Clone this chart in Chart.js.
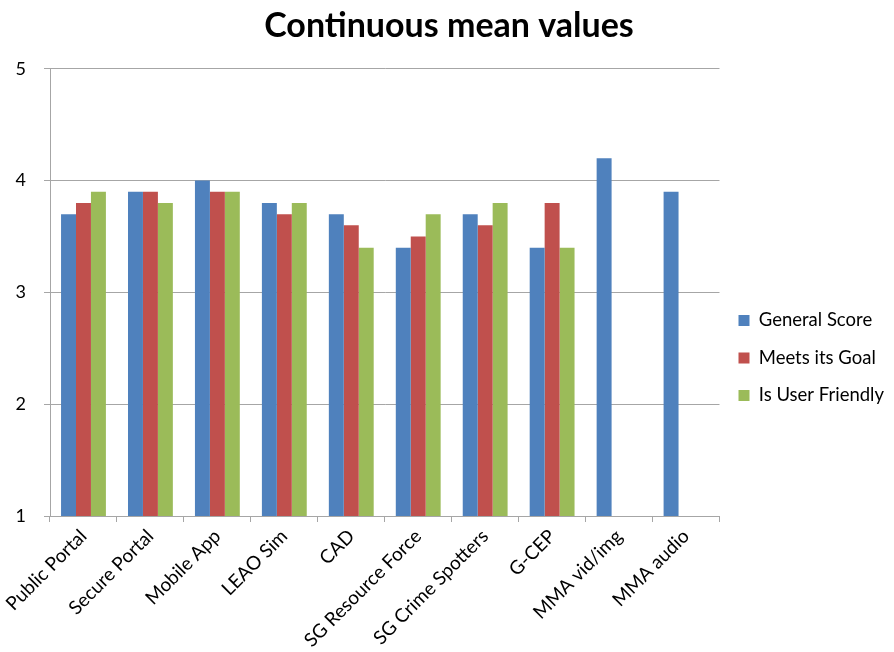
<!DOCTYPE html>
<html>
<head>
<meta charset="utf-8">
<script src="https://cdn.jsdelivr.net/npm/chart.js@4"></script>
<style>
  html, body { margin: 0; padding: 0; background: #fff; }
  #wrap { width: 894px; height: 652px; }
</style>
</head>
<body>
<div id="wrap"><canvas id="chart" width="894" height="652"></canvas></div>
<script>
const categories = [
  "Public Portal", "Secure Portal", "Mobile App", "LEAO Sim", "CAD",
  "SG Resource Force", "SG Crime Spotters", "G-CEP", "MMA vid/img", "MMA audio",
];
const generalScore = [3.7, 3.9, 4.0, 3.8, 3.7, 3.4, 3.7, 3.4, 4.2, 3.9];
const meetsGoal = [3.8, 3.9, 3.9, 3.7, 3.6, 3.5, 3.6, 3.8, null, null];
const userFriendly = [3.9, 3.8, 3.9, 3.8, 3.4, 3.7, 3.8, 3.4, null, null];
const yTicks = [1, 2, 3, 4, 5];

const font = "Lato, 'Open Sans', sans-serif";

new Chart(document.getElementById("chart"), {
  type: "bar",
  data: {
    labels: categories,
    datasets: [
      { label: "General Score", data: generalScore, backgroundColor: "#4f81bd" },
      { label: "Meets its Goal", data: meetsGoal, backgroundColor: "#c0504d" },
      { label: "Is User Friendly", data: userFriendly, backgroundColor: "#9bbb59" },
    ],
  },
  options: {
    responsive: false,
    animation: false,
    layout: { padding: { left: 4, right: 0, top: 0, bottom: 0 } },
    datasets: {
      bar: { categoryPercentage: 0.67, barPercentage: 1.0 },
    },
    scales: {
      x: {
        grid: {
          display: true,
          drawOnChartArea: false,
          offset: true,
          tickLength: 6,
          color: "#a6a6a6",
        },
        border: { color: "#a6a6a6" },
        ticks: {
          color: "#000",
          minRotation: 45,
          maxRotation: 45,
          font: { family: font, size: 19 },
        },
        afterFit: (scale) => { scale.height = 136; },
      },
      y: {
        min: 1,
        max: 5,
        afterBuildTicks: (scale) => { scale.ticks = yTicks.map((v) => ({ value: v })); },
        grid: { color: "#a6a6a6", tickLength: 6 },
        border: { color: "#a6a6a6" },
        ticks: {
          color: "#000",
          padding: 18,
          font: { family: font, size: 18 },
        },
        afterFit: (scale) => { scale.width = 46; },
      },
    },
    plugins: {
      title: {
        display: true,
        text: "Continuous mean values",
        color: "#000",
        font: { family: font, size: 34, weight: "bold" },
        padding: { top: 6, bottom: 22 },
      },
      legend: {
        position: "right",
        title: { display: true, text: " ", font: { size: 10 }, padding: { top: 0, bottom: 52 } },
        labels: {
          color: "#000",
          boxWidth: 11,
          boxHeight: 11,
          padding: 19,
          font: { family: font, size: 18.5 },
        },
      },
      tooltip: { enabled: false },
    },
  },
});
</script>
</body>
</html>
